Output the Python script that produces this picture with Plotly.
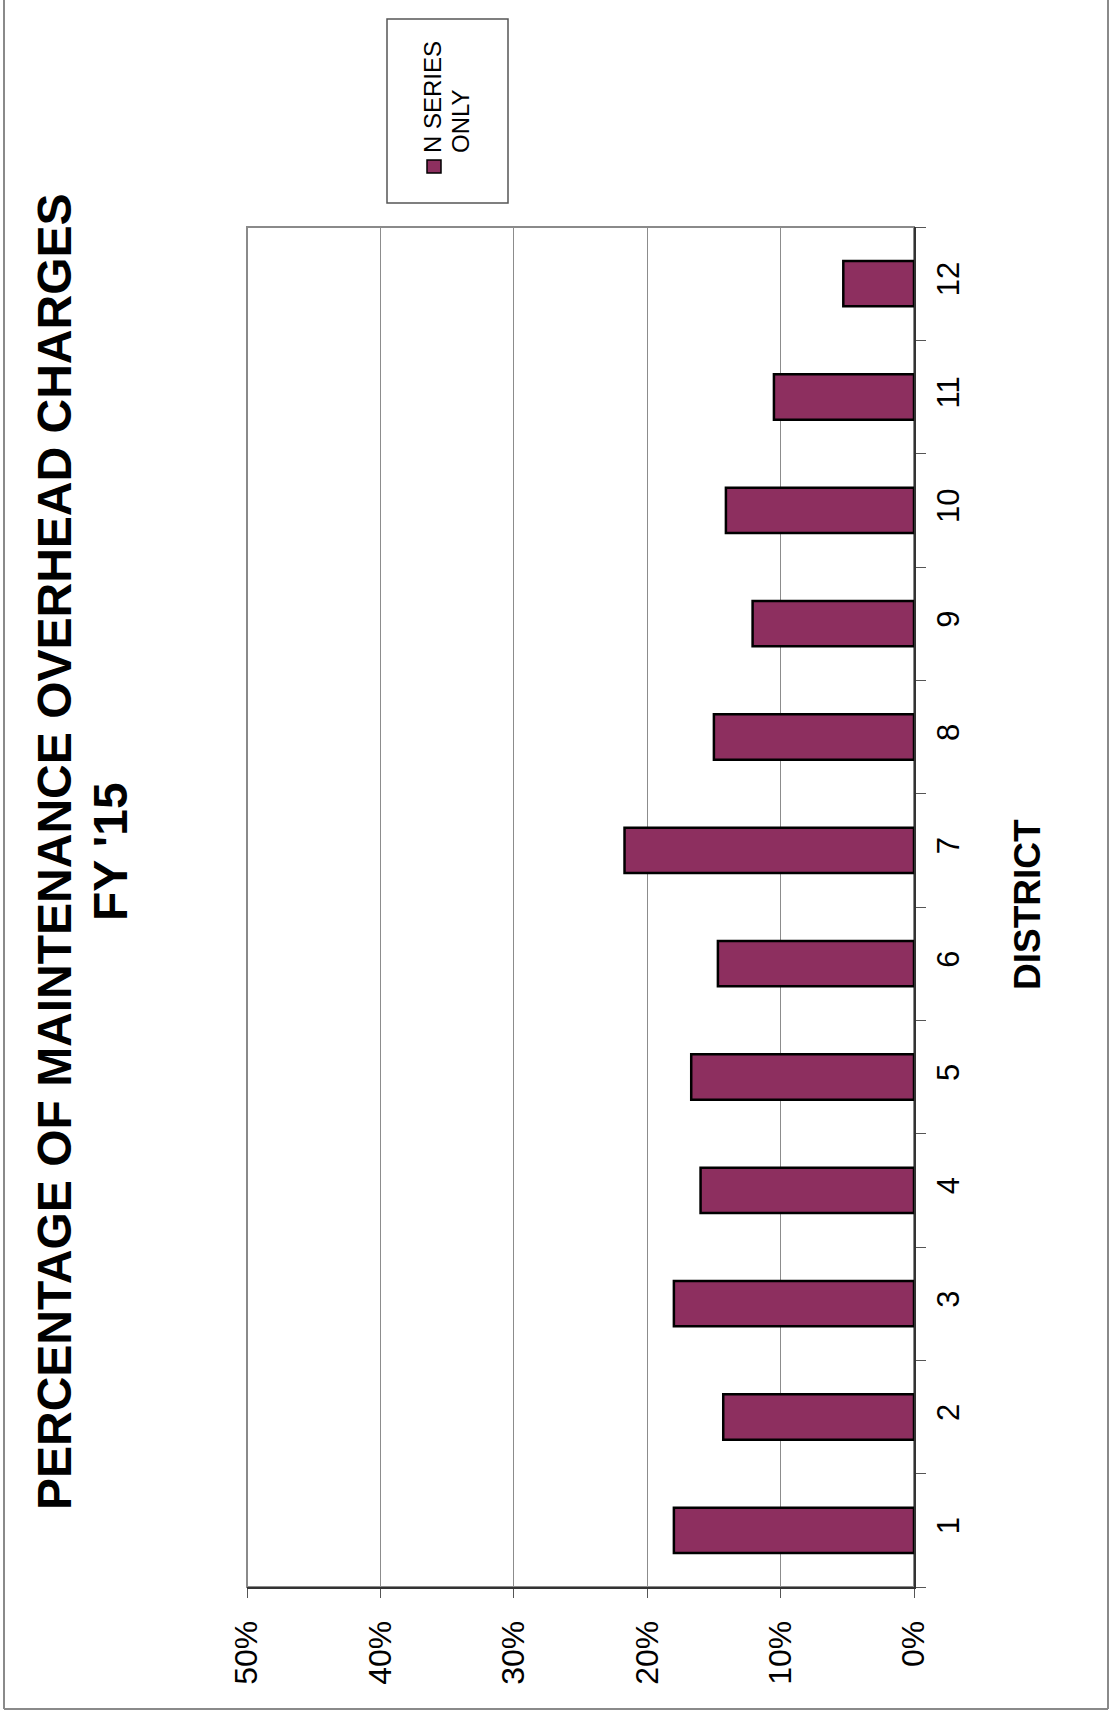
import plotly.graph_objects as go

# ---- data ----
districts = ["1", "2", "3", "4", "5", "6", "7", "8", "9", "10", "11", "12"]
overhead_pct = [18.0, 14.3, 18.0, 16.0, 16.7, 14.7, 21.7, 15.0, 12.1, 14.1, 10.5, 5.3]
x_tick_vals = [0, 10, 20, 30, 40, 50]
x_tick_text = ["0%", "10%", "20%", "30%", "40%", "50%"]
title_line1 = "PERCENTAGE OF MAINTENANCE OVERHEAD CHARGES"
title_line2 = "FY '15"
axis_title = "DISTRICT"
legend_line1 = "N SERIES"
legend_line2 = "ONLY"

# ---- geometry ----
W, H = 1110, 1721
L, R, T, B = 247, 914, 227, 1587
PW, PH = R - L, B - T


def px(x):
    return (x - L) / PW


def py(y):
    return (B - y) / PH


BAR_COLOR = "#8D2F5F"
ARIAL = "Liberation Sans, Arial, sans-serif"

fig = go.Figure()
fig.add_trace(go.Bar(
    y=districts,
    x=overhead_pct,
    orientation="h",
    marker=dict(color=BAR_COLOR, line=dict(color="#000000", width=2.5)),
    showlegend=False,
))

shapes = [
    dict(type="rect", xref="paper", yref="paper", x0=0, x1=1, y0=0, y1=1,
         line=dict(color="#8a8a8a", width=2), layer="below"),
    dict(type="line", xref="paper", yref="paper", x0=px(4), x1=px(4), y0=py(-5), y1=py(1709),
         line=dict(color="#8a8a8a", width=2)),
    dict(type="line", xref="paper", yref="paper", x0=px(4), x1=px(1108), y0=py(1709), y1=py(1709),
         line=dict(color="#8a8a8a", width=2)),
    dict(type="line", xref="paper", yref="paper", x0=px(1108), x1=px(1108), y0=py(-5), y1=py(1709),
         line=dict(color="#8a8a8a", width=2)),
    dict(type="rect", xref="paper", yref="paper", x0=px(387), x1=px(508), y0=py(203), y1=py(19),
         line=dict(color="#555555", width=1.5), fillcolor="white"),
    dict(type="rect", xref="paper", yref="paper", x0=px(427), x1=px(441), y0=py(173), y1=py(160),
         line=dict(color="#000000", width=1.5), fillcolor=BAR_COLOR),
]

annotations = [
    dict(text=title_line1, xref="paper", yref="paper", x=px(54), y=py(852),
         xanchor="center", yanchor="middle", textangle=-90, showarrow=False,
         font=dict(family=ARIAL, size=48, color="#000000", weight="bold")),
    dict(text=title_line2, xref="paper", yref="paper", x=px(110), y=py(852),
         xanchor="center", yanchor="middle", textangle=-90, showarrow=False,
         font=dict(family=ARIAL, size=48, color="#000000", weight="bold")),
    dict(text=axis_title, xref="paper", yref="paper", x=px(1027), y=py(905),
         xanchor="center", yanchor="middle", textangle=-90, showarrow=False,
         font=dict(family=ARIAL, size=37, color="#000000", weight="bold")),
    dict(text=legend_line1, xref="paper", yref="paper", x=px(433), y=py(155),
         xanchor="center", yanchor="bottom", textangle=-90, showarrow=False,
         font=dict(family=ARIAL, size=24, color="#000000")),
    dict(text=legend_line2, xref="paper", yref="paper", x=px(461), y=py(155),
         xanchor="center", yanchor="bottom", textangle=-90, showarrow=False,
         font=dict(family=ARIAL, size=24, color="#000000")),
]

fig.update_layout(
    width=W, height=H,
    margin=dict(l=L, r=W - R, t=T, b=H - B, pad=0),
    paper_bgcolor="white", plot_bgcolor="white",
    bargap=0.6,
    shapes=shapes,
    annotations=annotations,
    xaxis=dict(
        range=[50, 0], tickvals=x_tick_vals, ticktext=x_tick_text,
        tickangle=-90, ticks="outside", ticklen=9, tickcolor="#555555", tickwidth=1,
        showgrid=True, gridcolor="#8c8c8c", gridwidth=1, zeroline=False,
        showline=True, linecolor="#333333", linewidth=2,
        tickfont=dict(family=ARIAL, size=32, color="#000000"),
        ticklabelstandoff=10,
    ),
    yaxis=dict(
        type="category", side="right", tickangle=-90,
        ticks="outside", ticklen=10, tickcolor="#555555", tickwidth=1, tickson="boundaries",
        showgrid=False, zeroline=False,
        showline=True, linecolor="#333333", linewidth=2,
        tickfont=dict(family=ARIAL, size=31, color="#000000"),
        ticklabelstandoff=6,
    ),
)

fig.write_html("out.html", config={"displayModeBar": False},
               post_script="document.body.style.margin='0';document.body.style.overflow='hidden';")
